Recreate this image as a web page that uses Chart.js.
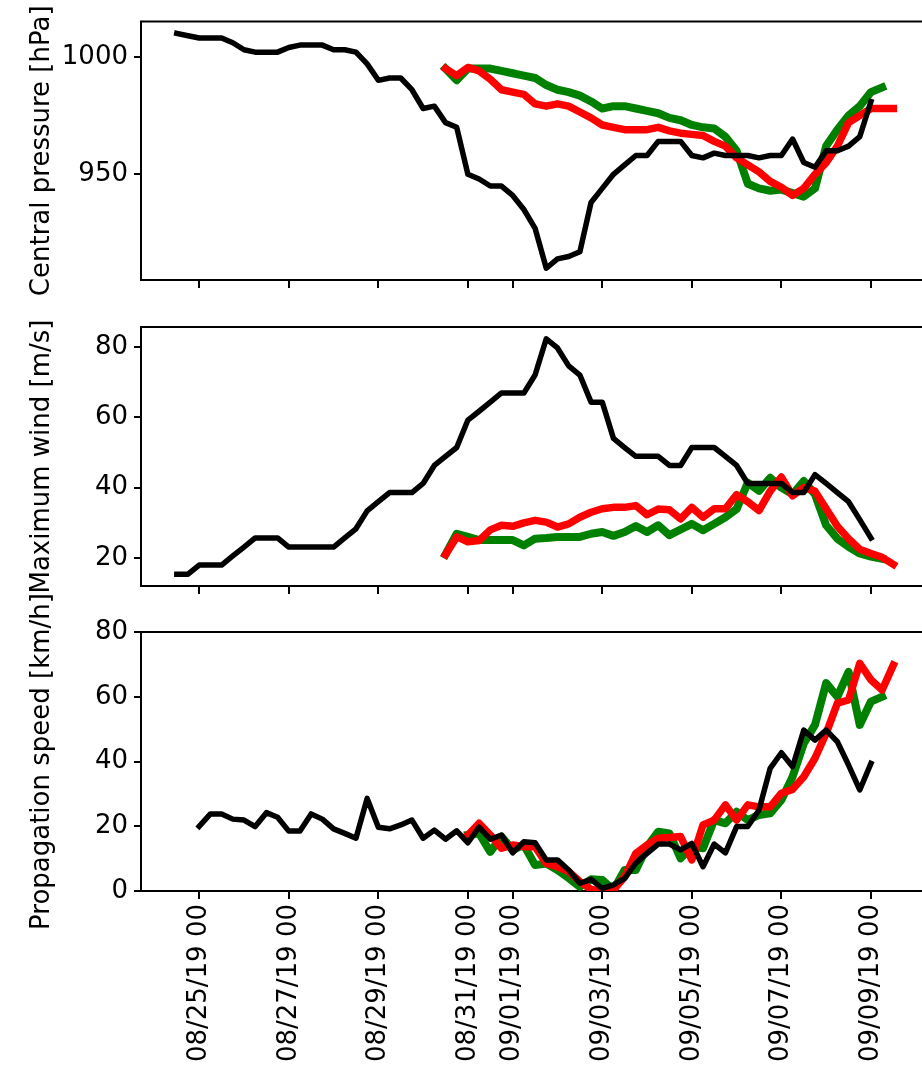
<!DOCTYPE html>
<html>
<head>
<meta charset="utf-8">
<script src="https://cdn.jsdelivr.net/npm/chart.js@4.4.1/dist/chart.umd.min.js"></script>
<style>
html,body{margin:0;padding:0;background:#fff;overflow:hidden}
#wrap{position:relative;width:922px;height:1070px}
#wrap canvas{position:absolute;left:0;top:0}
</style>
</head>
<body>
<div id="wrap">
<canvas id="c1" width="922" height="1070"></canvas>
<canvas id="c2" width="922" height="1070"></canvas>
<canvas id="c3" width="922" height="1070"></canvas>
</div>
<script>
// ---- time axis (days since 08/25/19 00, 6-hourly samples) ----
const STEP_DAYS = 0.25;
const xTickDays = [0, 2, 4, 6, 7, 9, 11, 13, 15];
const xTickLabels = ['08/25/19 00', '08/27/19 00', '08/29/19 00', '08/31/19 00', '09/01/19 00',
                     '09/03/19 00', '09/05/19 00', '09/07/19 00', '09/09/19 00'];

// ---- start day of each series ----
const obsStart = -0.5;        // black pressure & wind
const fcStart = 5.5;          // red & green pressure & wind
const obsSpeedStart = 0;      // black propagation speed
const fcSpeedStart = 6.0;     // red & green propagation speed

// ---- Central pressure [hPa] ----
const blackPressure = [1010, 1009, 1008, 1008, 1008, 1006, 1003, 1002, 1002, 1002,
  1004, 1005, 1005, 1005, 1003, 1003, 1002, 997, 990, 991,
  991, 986, 978, 979, 972, 970, 950, 948, 945, 945,
  941, 935, 927, 910, 914, 915, 917, 938, 944, 950,
  954, 958, 958, 964, 964, 964, 958, 957, 959, 958,
  958, 958, 957, 958, 958, 965, 955, 953, 960, 960,
  962, 966, 981];
const greenPressure = [995, 990, 995, 995, 995, 994, 993, 992, 991, 988,
  986, 985, 983.5, 981, 978, 979, 979, 978, 977, 976,
  974, 973, 971, 970, 969.5, 966, 960, 946, 944, 943,
  943.5, 942, 940.5, 944, 962, 969, 975, 979, 985, 987];
const redPressure = [995, 992, 995.5, 994, 990.5, 986, 985, 984, 980, 979,
  980, 979, 976.5, 974, 971, 970, 969, 969, 969, 970,
  968.5, 967.5, 967, 966.5, 964, 962, 957, 954, 951, 947,
  944.5, 941, 944, 950, 955, 962, 972, 975, 978, 978,
  978];

// ---- Maximum wind [m/s] ----
const blackWind = [15.4, 15.4, 18, 18, 18, 20.6, 23.1, 25.7, 25.7, 25.7,
  23.1, 23.1, 23.1, 23.1, 23.1, 25.7, 28.3, 33.4, 36, 38.6,
  38.6, 38.6, 41.2, 46.3, 48.9, 51.4, 59.2, 61.7, 64.3, 66.9,
  66.9, 66.9, 72, 82.3, 79.7, 74.6, 72, 64.3, 64.3, 54,
  51.4, 48.9, 48.9, 48.9, 46.3, 46.3, 51.4, 51.4, 51.4, 48.9,
  46.3, 41.2, 41.2, 41.2, 41.2, 38.6, 38.6, 43.7, 41.2, 38.6,
  36, 30.9, 25.7];
const greenWind = [21, 26.9, 26, 25.1, 25.1, 25.1, 25.1, 23.6, 25.5, 25.7,
  26, 26, 26, 26.9, 27.4, 26.3, 27.4, 29.1, 27.4, 29.3,
  26.5, 28.1, 29.7, 27.9, 29.7, 31.6, 33.9, 41.4, 39.1, 42.8,
  40, 38.1, 41.9, 38.1, 29.3, 25.5, 23.2, 21.3, 20.4, 19.8];
const redWind = [21, 26, 24.6, 25, 28, 29.3, 29, 30, 30.7, 30.2,
  28.8, 29.7, 31.6, 33, 34, 34.4, 34.4, 34.9, 32.3, 33.9,
  33.7, 31.1, 34.4, 31.6, 34, 34, 38, 36, 33.5, 39,
  43, 37.7, 40, 39, 34, 29, 25.5, 22.5, 21.3, 20.2,
  18.2];

// ---- Propagation speed [km/h] ----
const blackSpeed = [20, 23.8, 23.8, 22.2, 21.9, 19.9, 24.2, 22.8, 18.5, 18.5,
  23.8, 22.2, 19.2, 17.8, 16.3, 28.6, 19.7, 19.2, 20.4, 21.9,
  16.3, 18.8, 16, 18.6, 14.9, 19.7, 16, 17.3, 11.8, 15.2,
  14.9, 9.6, 9.6, 6.5, 2.4, 3.6, 0.8, 1.9, 3.9, 8.6,
  11.6, 14.5, 14.5, 12.7, 14.7, 7.5, 14.5, 11.8, 19.9, 19.9,
  25, 37.9, 42.7, 38.4, 49.7, 46.6, 49.7, 46.1, 38.9, 31.2,
  39.4];
const greenSpeed = [17.3, 17.8, 12.1, 16.8, 12.7, 14.2, 8, 8.5, 6.5, 4,
  1.3, 3.6, 3.4, 0.3, 6.5, 6.5, 13.7, 18.3, 17.8, 10.1,
  13.7, 13.2, 21.9, 20.9, 24.5, 21.9, 23.5, 24, 28.1, 35.3,
  45.6, 51.3, 64.2, 60, 67.7, 51.3, 58.5, 60];
const redSpeed = [17.3, 20.9, 17.3, 13.2, 14.2, 13.7, 13.7, 8.5, 7.5, 6,
  2.9, 0.5, 0, 0.3, 4.4, 11.6, 14.2, 16.3, 16.5, 16.8,
  9.6, 20.4, 21.9, 26.6, 21.9, 26.6, 26, 26, 30.2, 31.4,
  35.3, 41, 48.7, 58, 59, 70.3, 65.2, 62.1, 69.8];

// ---- y ticks ----
const pressureTicks = [950, 1000];
const windTicks = [20, 40, 60, 80];
const speedTicks = [0, 20, 40, 60, 80];

// ---- colours ----
const COL_BLACK = '#000000', COL_RED = '#ff0000', COL_GREEN = '#008000';

function toPoints(start, values) {
  return values.map((v, i) => ({ x: start + i * STEP_DAYS, y: v }));
}
function ds(points, color, width) {
  return { data: points, borderColor: color, borderWidth: width, pointRadius: 0,
           fill: false, tension: 0, clip: 0, borderJoinStyle: 'round', borderCapStyle: 'square' };
}

const FONT = { family: 'DejaVu Sans', size: 26 };
Chart.defaults.font.family = 'DejaVu Sans';
Chart.defaults.color = '#000';

const frameTop = {
  id: 'frameTop',
  afterDraw(chart) {
    const { ctx, chartArea } = chart;
    ctx.save();
    ctx.strokeStyle = '#000';
    ctx.lineWidth = 2;
    ctx.beginPath();
    ctx.moveTo(chartArea.left - 1, chartArea.top);
    ctx.lineTo(chartArea.right, chartArea.top);
    ctx.stroke();
    ctx.restore();
  }
};

function makePanel(id, cfg) {
  return new Chart(document.getElementById(id), {
    type: 'line',
    data: { datasets: cfg.datasets },
    options: {
      responsive: false, animation: false, devicePixelRatio: 1,
      layout: { padding: { top: cfg.top, bottom: 1070 - cfg.bottom - cfg.xh, left: 0, right: 0 } },
      plugins: { legend: { display: false }, tooltip: { enabled: false } },
      scales: {
        x: {
          type: 'linear', min: -1.3, max: 16.14,
          afterFit: s => { s.height = cfg.xh; },
          afterBuildTicks: s => { s.ticks = xTickDays.map(v => ({ value: v })); },
          grid: { display: true, drawOnChartArea: false, drawTicks: true, tickLength: 8, color: '#000', lineWidth: 2 },
          border: { display: true, color: '#000', width: 2 },
          ticks: {
            display: cfg.showX, autoSkip: false, minRotation: 90, maxRotation: 90, padding: 5,
            color: '#000', font: FONT,
            callback: v => { const i = xTickDays.indexOf(v); return i >= 0 ? xTickLabels[i] : ''; }
          }
        },
        y: {
          type: 'linear', min: cfg.ymin, max: cfg.ymax,
          afterFit: s => { s.width = 141; },
          afterBuildTicks: s => { s.ticks = cfg.yticks.map(v => ({ value: v })); },
          grid: { display: true, drawOnChartArea: false, drawTicks: true, tickLength: 7, color: '#000', lineWidth: 2 },
          border: { display: true, color: '#000', width: 2 },
          ticks: { padding: 6, color: '#000', font: FONT, callback: v => String(v) },
          title: { display: true, text: cfg.title, color: '#000', font: FONT, padding: { top: 27, bottom: 0 } }
        }
      }
    },
    plugins: [frameTop]
  });
}

makePanel('c1', {
  top: 21, bottom: 280, xh: 8, showX: false, ymin: 905, ymax: 1015,
  yticks: pressureTicks, title: 'Central pressure [hPa]',
  datasets: [ds(toPoints(obsStart, blackPressure), COL_BLACK, 5.5),
             ds(toPoints(fcStart, redPressure), COL_RED, 7.5),
             ds(toPoints(fcStart, greenPressure), COL_GREEN, 8)]
});
makePanel('c2', {
  top: 327, bottom: 586, xh: 8, showX: false, ymin: 12.05, ymax: 85.65,
  yticks: windTicks, title: 'Maximum wind [m/s]',
  datasets: [ds(toPoints(obsStart, blackWind), COL_BLACK, 5.5),
             ds(toPoints(fcStart, redWind), COL_RED, 7.5),
             ds(toPoints(fcStart, greenWind), COL_GREEN, 8)]
});
makePanel('c3', {
  top: 632, bottom: 891, xh: 175, showX: true, ymin: 0, ymax: 80,
  yticks: speedTicks, title: 'Propagation speed [km/h]',
  datasets: [ds(toPoints(obsSpeedStart, blackSpeed), COL_BLACK, 5.5),
             ds(toPoints(fcSpeedStart, redSpeed), COL_RED, 7.5),
             ds(toPoints(fcSpeedStart, greenSpeed), COL_GREEN, 8)]
});
</script>
</body>
</html>
